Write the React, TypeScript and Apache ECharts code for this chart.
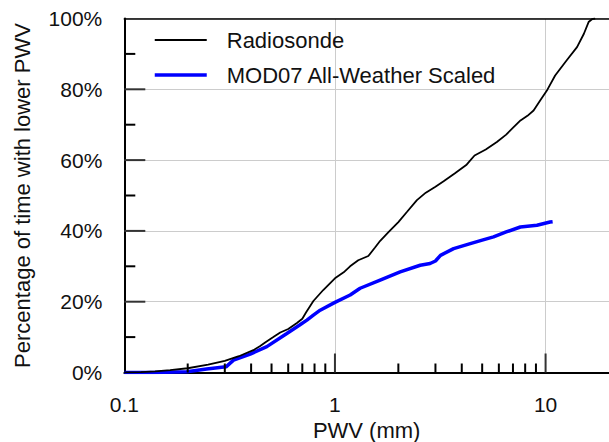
import React, { useEffect, useRef } from "react";
import * as echarts from "echarts";

// Cumulative distributions of precipitable water vapour (PWV, mm) -> % of time below
const radiosondePwv = [0.1, 0.12, 0.14, 0.165, 0.2, 0.25, 0.3, 0.35, 0.41, 0.44, 0.47, 0.51, 0.55, 0.6, 0.66, 0.7, 0.73, 0.79, 0.88, 1.0, 1.1, 1.18, 1.29, 1.44, 1.55, 1.64, 1.8, 2.0, 2.2, 2.45, 2.7, 3.0, 3.28, 3.7, 4.2, 4.39, 4.6, 5.2, 5.87, 6.5, 7.05, 7.6, 8.2, 8.77, 9.44, 10.2, 11.1, 12.6, 14.1, 15.2, 16.0, 16.6, 17.2];
const radiosondePct = [0, 0.1, 0.3, 0.7, 1.2, 2.2, 3.3, 4.6, 6.3, 7.4, 8.6, 10.0, 11.3, 12.3, 14.0, 15.2, 17.0, 20.2, 23.3, 26.6, 28.3, 30.0, 31.7, 32.9, 35.3, 37.2, 39.7, 42.5, 45.4, 48.7, 50.8, 52.5, 54.0, 56.2, 58.6, 59.9, 61.3, 63.0, 65.1, 67.2, 69.3, 71.2, 72.5, 74.0, 76.9, 79.9, 83.9, 88.2, 91.9, 95.7, 99.0, 99.8, 100];

const mod07Pwv = [0.1, 0.137, 0.198, 0.246, 0.304, 0.33, 0.396, 0.475, 0.591, 0.68, 0.736, 0.79, 0.851, 1.0, 1.181, 1.317, 1.639, 2.04, 2.54, 2.83, 3.0, 3.17, 3.66, 4.39, 5.0, 5.66, 6.5, 7.59, 9.1, 10.5, 10.8];
const mod07Pct = [0, 0, 0.2, 1.0, 1.6, 3.5, 5.2, 7.3, 11.0, 13.4, 14.8, 16.2, 17.6, 19.8, 21.9, 23.8, 26.1, 28.4, 30.3, 30.8, 31.5, 33.1, 35.0, 36.4, 37.4, 38.3, 39.7, 41.1, 41.6, 42.5, 42.6];

// Log-axis tick marks: decades get long ticks, intermediate values short ones
const xMinorTicks = [0.2, 0.3, 0.4, 0.5, 0.6, 0.7, 0.8, 0.9, 2, 3, 4, 5, 6, 7, 8, 9];
const xMajorTicks = [1, 10];
// Percentage-axis tick marks
const yMajorTicks = [20, 40, 60, 80];
const yMinorTicks = [10, 30, 50, 70, 90];

const seriesNames = ["Radiosonde", "MOD07 All-Weather Scaled"];
const seriesColors = ["#000000", "#0000ff"];
const seriesWidths = [1.8, 3.5];
const FONT = "Liberation Sans, Arial, sans-serif";
const X_MIN = 0.1;

export default function App() {
  const ref = useRef<HTMLDivElement>(null);

  useEffect(() => {
    if (!ref.current) return;
    const chart = echarts.init(ref.current, null, { renderer: "svg" });

    // [x, y, dx, dy, colour index]: tick anchored on the axis at (x, y), drawn inward
    const tickData = [
      ...xMinorTicks.map((v) => [v, 0, 0, -9, 0]),
      ...xMajorTicks.map((v) => [v, 0, 0, -19, 1]),
      ...yMinorTicks.map((v) => [X_MIN, v, 11, 0, 0]),
      ...yMajorTicks.map((v) => [X_MIN, v, 21, 0, 1]),
    ];
    const tickColors = ["#000000", "#333333"];

    chart.setOption({
      animation: false,
      backgroundColor: "#ffffff",
      textStyle: { fontFamily: FONT },
      grid: {
        left: 124.3,
        right: 0,
        top: 18.5,
        bottom: 69.5,
        containLabel: false,
        outerBoundsMode: "none",
      },
      legend: {
        orient: "vertical",
        left: 153,
        top: 29,
        padding: 0,
        itemGap: 13,
        itemWidth: 52,
        itemHeight: 14,
        itemStyle: { opacity: 0, color: "transparent", borderWidth: 0 },
        data: seriesNames.map((name, i) => ({
          name,
          lineStyle: { color: seriesColors[i], width: seriesWidths[i] },
        })),
        textStyle: {
          fontFamily: FONT,
          fontSize: 22,
          lineHeight: 22,
          color: "#111",
          padding: [0, 0, 0, 15],
        },
      },
      xAxis: [
        {
          type: "log",
          logBase: 10,
          min: X_MIN,
          max: 20,
          name: "PWV (mm)",
          nameLocation: "middle",
          nameGap: 46,
          nameTextStyle: { fontFamily: FONT, fontSize: 22, lineHeight: 22, color: "#111" },
          axisLine: { show: true, lineStyle: { color: "#000", width: 2 } },
          axisTick: { show: false },
          splitLine: { show: true, lineStyle: { color: "#cccccc", width: 1 } },
          axisLabel: {
            fontFamily: FONT,
            fontSize: 21,
            color: "#111",
            margin: 21,
            showMaxLabel: false,
            formatter: (v: number) => {
              const l = Math.log10(v);
              return Math.abs(l - Math.round(l)) < 1e-6 ? String(Number(v.toPrecision(6))) : "";
            },
          },
        },
        {
          type: "log",
          logBase: 10,
          min: X_MIN,
          max: 20,
          position: "top",
          axisLine: { show: true, lineStyle: { color: "#000", width: 1.5 } },
          axisTick: { show: false },
          axisLabel: { show: false },
          splitLine: { show: false },
        },
      ],
      yAxis: {
        type: "value",
        min: 0,
        max: 100,
        interval: 20,
        name: "Percentage of time with lower PWV",
        nameLocation: "middle",
        nameGap: 91,
        nameTextStyle: { fontFamily: FONT, fontSize: 22, color: "#111" },
        axisLine: { show: true, lineStyle: { color: "#000", width: 2 } },
        axisTick: { show: false },
        minorTick: { show: false },
        splitLine: { show: true, lineStyle: { color: "#cccccc", width: 1 } },
        axisLabel: {
          fontFamily: FONT,
          fontSize: 21,
          color: "#111",
          margin: 22,
          padding: [5, 0, 0, 0],
          formatter: (v: number) => `${v}%`,
        },
      },
      series: [
        {
          type: "custom",
          name: "ticks",
          silent: true,
          clip: false,
          z: 4,
          data: tickData,
          encode: { x: 0, y: 1 },
          renderItem: (params: any, api: any) => {
            const base = api.coord([api.value(0), api.value(1)]);
            const dx = api.value(2);
            const dy = api.value(3);
            return {
              type: "line",
              shape: { x1: base[0], y1: base[1], x2: base[0] + dx, y2: base[1] + dy },
              style: { stroke: tickColors[api.value(4)], lineWidth: 2 },
            };
          },
        },
        {
          type: "line",
          name: seriesNames[0],
          data: radiosondePwv.map((x, i) => [x, radiosondePct[i]]),
          symbol: "none",
          z: 3,
          lineStyle: { color: seriesColors[0], width: seriesWidths[0] },
          itemStyle: { color: seriesColors[0] },
        },
        {
          type: "line",
          name: seriesNames[1],
          data: mod07Pwv.map((x, i) => [x, mod07Pct[i]]),
          symbol: "none",
          z: 2,
          lineStyle: { color: seriesColors[1], width: seriesWidths[1] },
          itemStyle: { color: seriesColors[1] },
        },
      ],
    });

    return () => chart.dispose();
  }, []);

  return (
    <div
      ref={ref}
      style={{ position: "fixed", left: 0, top: 0, width: 609, height: 442, background: "#fff" }}
    />
  );
}
